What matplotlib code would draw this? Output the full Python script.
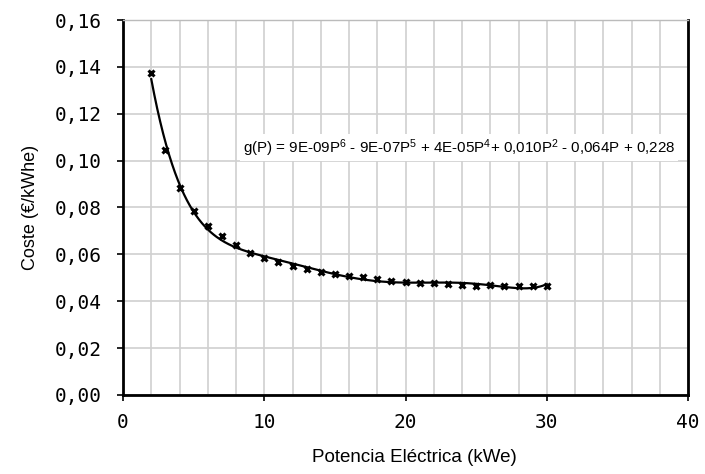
import numpy as np
import matplotlib
matplotlib.use('Agg')
import matplotlib.pyplot as plt
from matplotlib.ticker import FuncFormatter, MultipleLocator

# datos
potencia = [2, 3, 4, 5, 6, 7, 8, 9, 10, 11, 12, 13, 14, 15, 16,
            17, 18, 19, 20, 21, 22, 23, 24, 25, 26, 27, 28, 29, 30]
coste = [0.1372, 0.1045, 0.0882, 0.0786, 0.0722, 0.0680, 0.0640, 0.0607,
         0.0583, 0.0566, 0.0550, 0.0536, 0.0525, 0.0516, 0.0509, 0.0502,
         0.0495, 0.0488, 0.0483, 0.0479, 0.0476, 0.0472, 0.0471, 0.0466,
         0.0469, 0.0466, 0.0464, 0.0464, 0.0464]
ecuacion = ('g(P) = 9E-09P$^{6}$ - 9E-07P$^{5}$ + 4E-05P$^{4}$+ 0,010P$^{2}$'
            ' - 0,064P + 0,228')

# linea de tendencia polinomica (grado 6), como en la hoja de calculo
coef = np.polyfit(potencia, coste, 6)
p_fit = np.linspace(min(potencia), max(potencia), 400)
c_fit = np.polyval(coef, p_fit)

plt.rcParams['mathtext.default'] = 'regular'

fig = plt.figure(figsize=(7.05, 4.74), dpi=100)
ax = fig.add_axes([0.1745, 0.1667, 0.976 - 0.1745, 0.9578 - 0.1667])

ax.plot(p_fit, c_fit, color='black', linewidth=1.6, zorder=3)
ax.plot(potencia, coste, linestyle='none', marker='x', markersize=5,
        markeredgewidth=2.2, color='black', zorder=4)

ax.set_xlim(0, 40)
ax.set_ylim(0, 0.16)
ax.xaxis.set_major_locator(MultipleLocator(10))
ax.xaxis.set_minor_locator(MultipleLocator(2))
ax.yaxis.set_major_locator(MultipleLocator(0.02))
ax.yaxis.set_major_formatter(FuncFormatter(lambda v, pos: f'{v:.2f}'.replace('.', ',')))

ax.grid(True, which='both', axis='x', color='#d0d0d0', linewidth=1.2)
ax.grid(True, which='major', axis='y', color='#d0d0d0', linewidth=1.2)
ax.set_axisbelow(True)

ax.tick_params(axis='both', which='major', direction='out', length=4, width=1.2,
               labelsize=14)
ax.tick_params(axis='x', which='major', pad=9)
ax.tick_params(axis='y', which='major', pad=11)
ax.tick_params(axis='x', which='minor', length=0)
for lab in ax.get_xticklabels() + ax.get_yticklabels():
    lab.set_fontfamily('DejaVu Sans Mono')

for lado in ['left', 'bottom', 'right']:
    ax.spines[lado].set_color('black')
    ax.spines[lado].set_linewidth(2)
ax.spines['top'].set_color('#bbbbbb')
ax.spines['top'].set_linewidth(1)

ax.set_xlabel('Potencia Eléctrica (kWe)', fontfamily='Liberation Sans', fontsize=13.5)
ax.set_ylabel('Coste (€/kWhe)', fontfamily='Liberation Sans', fontsize=13, labelpad=12)
ax.xaxis.set_label_coords(0.515, -0.145)

ax.text(8.5, 0.1054, ecuacion, fontfamily='Liberation Sans', fontsize=10.9,
        va='center', ha='left', zorder=5,
        bbox=dict(facecolor='white', edgecolor='none', pad=2))

fig.savefig('out.png', dpi=100)
